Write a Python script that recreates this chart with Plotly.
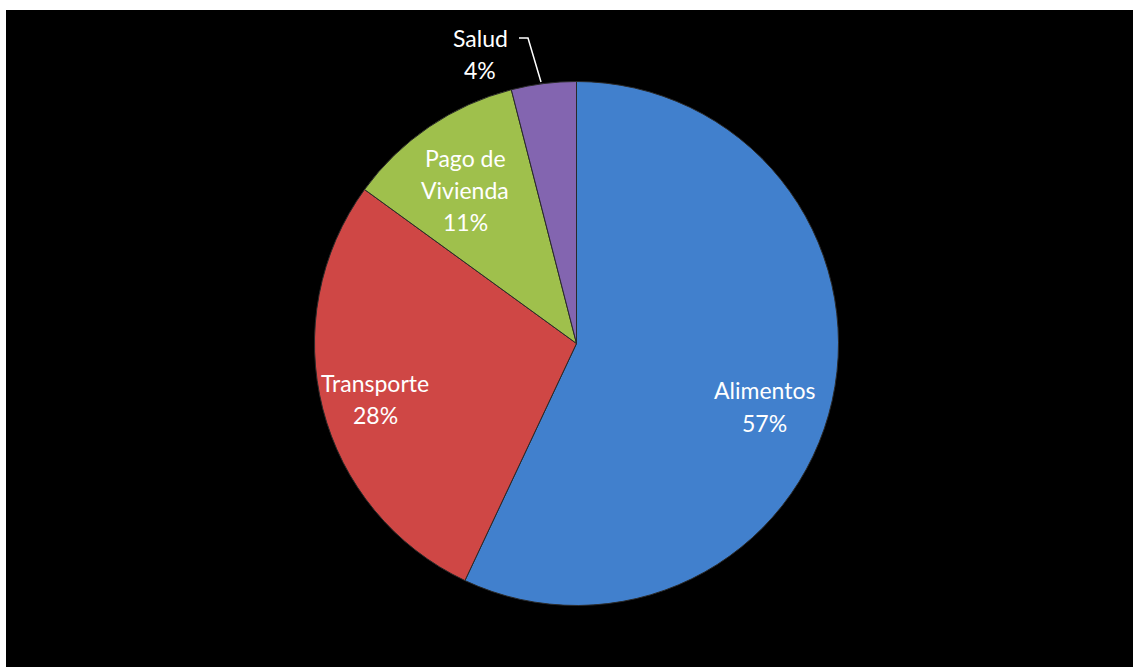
import plotly.graph_objects as go

# Data
categories = ["Alimentos", "Transporte", "Pago de Vivienda", "Salud"]
values = [57, 28, 11, 4]
colors = ["#4180CD", "#CF4745", "#9FC04C", "#8365B0"]

W, H = 1133, 667

def px(x):
    return x / W

def py(y):
    return 1 - y / H

cx, cy, r = 576.5, 343.5, 262

fig = go.Figure()
fig.add_trace(go.Pie(
    labels=categories,
    values=values,
    sort=False,
    direction="clockwise",
    rotation=0,
    textinfo="none",
    hoverinfo="label+percent",
    marker=dict(colors=colors, line=dict(color="#2a2a2a", width=1)),
    domain=dict(x=[px(cx - r), px(cx + r)], y=[py(cy + r), py(cy - r)]),
    showlegend=False,
))

# Label positions (pixel centers for each line)
label_lines = {
    0: (["Alimentos", f"{values[0]}%"], 764, [390, 423]),
    1: (["Transporte", f"{values[1]}%"], 375, [383, 415]),
    2: (["Pago de", "Vivienda", f"{values[2]}%"], 465, [158, 190, 222]),
    3: (["Salud", f"{values[3]}%"], 480, [38, 70]),
}

annotations = []
for i, (lines, x, ys) in label_lines.items():
    for t, y in zip(lines, ys):
        annotations.append(dict(
            x=px(x), y=py(y), xref="paper", yref="paper",
            text=t, showarrow=False, xanchor="center", yanchor="middle",
            font=dict(family="Lato, Carlito, Calibri, sans-serif", size=23, color="white"),
        ))

shapes = [
    dict(type="rect", xref="paper", yref="paper",
         x0=px(6), x1=1, y0=0, y1=py(10),
         fillcolor="black", line=dict(width=0), layer="below"),
    dict(type="path", xref="paper", yref="paper",
         path=f"M {px(519)} {py(38)} L {px(528)} {py(38)} L {px(541)} {py(82)}",
         line=dict(color="white", width=1.5)),
]

fig.update_layout(
    width=W, height=H,
    margin=dict(l=0, r=0, t=0, b=0),
    paper_bgcolor="white",
    plot_bgcolor="black",
    annotations=annotations,
    shapes=shapes,
)

fig.write_html("out.html")
